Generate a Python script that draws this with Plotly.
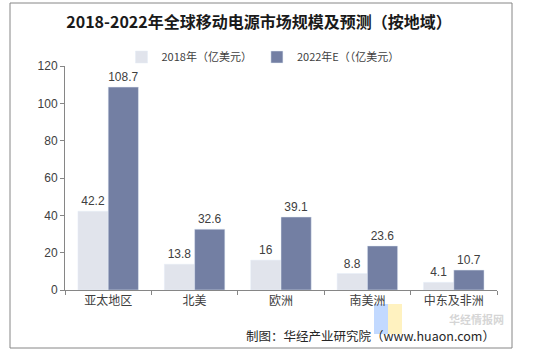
import plotly.graph_objects as go

categories = ["亚太地区", "北美", "欧洲", "南美洲", "中东及非洲"]
values_2018 = [42.2, 13.8, 16, 8.8, 4.1]
values_2022 = [108.7, 32.6, 39.1, 23.6, 10.7]
series_names = ["2018年（亿美元）", "2022年E（（亿美元）"]
y_ticks = [0, 20, 40, 60, 80, 100, 120]

W, H = 549, 357
L, R, T, B = 65, 52, 30, 67
pw, ph = W - L - R, H - T - B
plot_top_px = 66  # pixel y of the top of the y axis
y_dom_top = (H - B - plot_top_px) / ph

def px_x(x):
    return (x - L) / pw

def px_y(y):
    return (H - B - y) / ph

font_cjk = "Noto Sans CJK SC, Liberation Sans, Arial"

fig = go.Figure()
fig.add_trace(go.Bar(
    x=categories, y=values_2018, name=series_names[0],
    marker=dict(color="#E1E4EC"),
    text=[f"{v:g}" for v in values_2018], textposition="outside",
    textfont=dict(size=12, color="#404040", family="Liberation Sans, Arial"),
    cliponaxis=False,
))
fig.add_trace(go.Bar(
    x=categories, y=values_2022, name=series_names[1],
    marker=dict(color="#737FA3"),
    text=[f"{v:g}" for v in values_2022], textposition="outside",
    textfont=dict(size=12, color="#404040", family="Liberation Sans, Arial"),
    cliponaxis=False,
))

fig.update_layout(
    width=W, height=H,
    margin=dict(l=L, r=R, t=T, b=B, autoexpand=False),
    paper_bgcolor="white", plot_bgcolor="white",
    barmode="group", bargap=0.3, bargroupgap=0,
    title=dict(
        text="<b>2018-2022年全球移动电源市场规模及预测（按地域）</b>",
        x=259 / W, xref="container", xanchor="center",
        y=1 - 22 / H, yref="container", yanchor="middle",
        font=dict(size=16, color="#1a1a1a", family="Noto Sans CJK SC, serif"),
    ),
    legend=dict(
        orientation="h", x=px_x(263), xanchor="center", y=px_y(57), yanchor="middle",
        font=dict(size=11, color="#404040", family=font_cjk),
        itemwidth=30, traceorder="normal", tracegroupgap=0,
        bgcolor="rgba(0,0,0,0)",
    ),
    xaxis=dict(
        showline=True, linecolor="#868686", linewidth=1,
        ticks="outside", tickson="boundaries", ticklen=4, tickcolor="#868686",
        tickfont=dict(size=12, color="#404040", family=font_cjk),
        showgrid=False,
    ),
    yaxis=dict(
        domain=[0, y_dom_top],
        range=[0, 120], tickvals=y_ticks,
        showline=True, linecolor="#868686", linewidth=1,
        ticks="outside", ticklen=4, tickcolor="#868686",
        tickfont=dict(size=12, color="#404040", family="Liberation Sans, Arial"),
        showgrid=False, zeroline=False,
    ),
    showlegend=True,
)

# outer frame
fig.add_shape(type="rect", xref="paper", yref="paper",
              x0=px_x(10), x1=px_x(512), y0=px_y(348), y1=px_y(3),
              line=dict(color="#868686", width=1), fillcolor="rgba(0,0,0,0)", layer="below")

# watermark (faint logo + text)
fig.add_shape(type="rect", xref="paper", yref="paper",
              x0=px_x(374), x1=px_x(388), y0=px_y(334), y1=px_y(304),
              fillcolor="rgba(120,170,255,0.45)", line=dict(width=0), layer="below")
fig.add_shape(type="rect", xref="paper", yref="paper",
              x0=px_x(388), x1=px_x(402), y0=px_y(334), y1=px_y(304),
              fillcolor="rgba(255,230,130,0.5)", line=dict(width=0), layer="below")
fig.add_annotation(xref="paper", yref="paper", x=px_x(506), y=px_y(319),
                   xanchor="right", yanchor="middle",
                   text="<b>华经情报网</b>", showarrow=False,
                   font=dict(size=11, color="rgba(185,185,185,0.6)", family=font_cjk))

# source
fig.add_annotation(xref="paper", yref="paper", x=px_x(497), y=px_y(335),
                   xanchor="right", yanchor="middle",
                   text="制图：华经产业研究院（www.huaon.com）", showarrow=False,
                   font=dict(size=12.5, color="#262626", family=font_cjk))

fig.write_html("out.html", config={"displayModeBar": False},
               post_script="document.body.style.margin='0';document.body.style.padding='0';")
